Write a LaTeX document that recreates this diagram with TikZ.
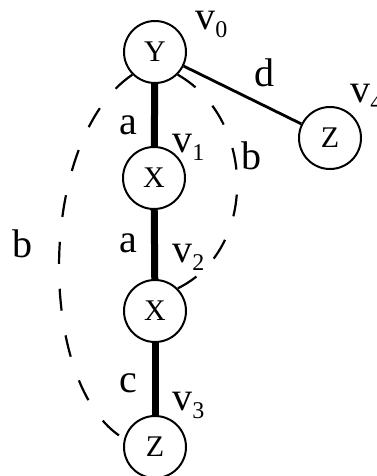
\documentclass[tikz,border=0pt]{standalone}
\usepackage{fontspec}
\setmainfont{Liberation Serif}
\usepackage{tikz}
\usetikzlibrary{positioning}
\newcommand{\vname}[1]{v\raisebox{-4pt}{\fontsize{12}{12}\selectfont #1}}

\begin{document}
\begin{tikzpicture}[x=0.5pt,y=-0.5pt,
  vtx/.style={draw,circle,line width=1pt,minimum size=31pt,inner sep=0pt,font=\fontsize{15}{15}\selectfont},
  lbl/.style={inner sep=0pt,anchor=base west,font=\fontsize{20}{20}\selectfont},
  elbl/.style={inner sep=0pt,font=\fontsize{20}{20}\selectfont},
  tree/.style={line width=3.5pt},
  back/.style={line width=1.1pt,dash pattern=on 11pt off 12.5pt}]
\useasboundingbox (0,0) rectangle (376,476);
% vertices
\node[vtx] (v0) at (155,52) {Y};
\node[vtx] (v1) at (154,178) {X};
\node[vtx] (v2) at (155,311) {X};
\node[vtx] (v3) at (155,447) {Z};
\node[vtx] (v4) at (330,138) {Z};
% vertex names
\node[lbl] (n0) at (195,30) {\vname{0}};
\node[lbl] (n1) at (172,152) {\vname{1}};
\node[lbl] (n2) at (172,262) {\vname{2}};
\node[lbl] (n3) at (172,410) {\vname{3}};
\node[lbl] (n4) at (350,103) {\vname{4}};
% tree edges
\draw[tree] (v0) -- node[elbl,pos=0.66,left=7pt] {a} (v1);
\draw[tree] (v1) -- node[elbl,pos=0.48,left=7pt] {a} (v2);
\draw[tree] (v2) -- node[elbl,pos=0.56,left=7pt] {c} (v3);
\draw[line width=1.4pt] (v0) -- node[elbl,pos=0.69,above=9pt] {d} (v4);
% back edges
\draw[back] (v0.225) .. controls (36,140) and (36,387) .. node[elbl,pos=0.46,left=13pt] {b} (v3.165);
\draw[back] (v0.-45) .. controls (257,120) and (257,250) .. node[elbl,pos=0.39,right=3pt] {b} (v2.45);
\end{tikzpicture}
\end{document}
